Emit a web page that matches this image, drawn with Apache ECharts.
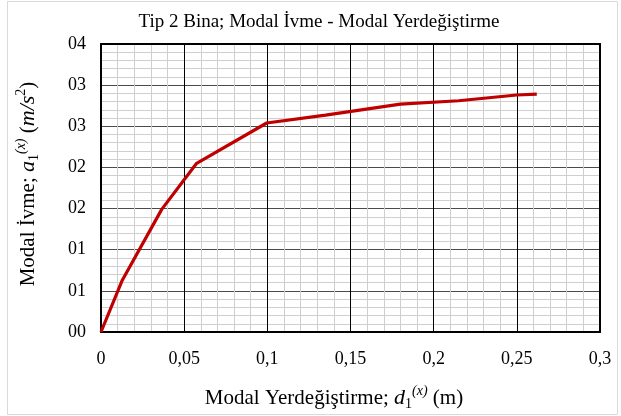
<!DOCTYPE html>
<html>
<head>
<meta charset="utf-8">
<script src="https://cdn.jsdelivr.net/npm/echarts@6/dist/echarts.min.js"></script>
<style>
  html, body { margin: 0; padding: 0; background: #fff; }
  #chart { width: 621px; height: 416px; }
</style>
</head>
<body>
<div id="chart"></div>
<script>
// Capacity curve in modal coordinates: displacement (m) vs. acceleration
const displacement = [0, 0.0128, 0.0365, 0.0575, 0.0996, 0.135, 0.18, 0.215, 0.25, 0.262];
const acceleration = [0, 0.63, 1.49, 2.05, 2.54, 2.635, 2.77, 2.81, 2.88, 2.89];

// Axis tick labels
const xTickLabels = ['0', '0,05', '0,1', '0,15', '0,2', '0,25', '0,3'];
const yTickLabels = ['00', '01', '01', '02', '02', '03', '03', '04'];

const titleText = 'Tip 2 Bina; Modal İvme - Modal Yerdeğiştirme';

const serif = '"Liberation Serif", "Times New Roman", serif';
const points = displacement.map((d, i) => [d, acceleration[i]]);

const chart = echarts.init(document.getElementById('chart'), null, { renderer: 'canvas' });

const baseAxisLabel = { color: '#000', fontFamily: serif, fontSize: 18 };

// rich-text styles for the math in the axis names (sub/superscripts)
const nameRich = {
  t: { fontFamily: serif, fontSize: 21, color: '#000', height: 30 },
  i: { fontFamily: serif, fontSize: 22, fontStyle: 'italic', color: '#000', height: 30 },
  sub: { fontFamily: serif, fontSize: 14, color: '#000', verticalAlign: 'bottom', height: 18 },
  sup: { fontFamily: serif, fontSize: 14, fontStyle: 'italic', color: '#000', verticalAlign: 'top', height: 16 },
  sup2: { fontFamily: serif, fontSize: 14, color: '#000', verticalAlign: 'top', height: 16 }
};

chart.setOption({
  animation: false,
  backgroundColor: '#fff',
  title: {
    text: titleText,
    left: 314, textAlign: 'center',
    top: 8,
    textStyle: { fontFamily: serif, fontSize: 19, fontWeight: 'normal', color: '#000' }
  },
  graphic: [{
    type: 'rect',
    shape: { x: 7.5, y: 1.5, width: 610, height: 413 },
    style: { fill: 'none', stroke: '#d9d9d9', lineWidth: 1 },
    silent: true
  }],
  grid: { left: 101, right: 21, top: 44, bottom: 84 },
  xAxis: [{
    type: 'value',
    min: 0, max: 0.3, interval: 0.05,
    axisLine: { show: true, onZero: false, lineStyle: { color: '#000', width: 2 } },
    axisTick: { show: false },
    axisLabel: Object.assign({}, baseAxisLabel, {
      margin: 18,
      formatter: (v, i) => xTickLabels[i]
    }),
    splitLine: { show: true, lineStyle: { color: '#000', width: 1 } },
    minorTick: { show: false, splitNumber: 5 },
    minorSplitLine: { show: true, lineStyle: { color: '#cfcfcf', width: 1 } },
    name: '{t|Modal Yerdeğiştirme; }{i|d}{sub|1}{sup|(x)}{t| (m)}',
    nameLocation: 'middle',
    nameGap: 51,
    nameTextStyle: {
      color: '#000', fontFamily: serif, fontSize: 21,
      padding: [0, 33, 0, 0],
      rich: nameRich
    }
  }, {
    type: 'value', position: 'top',
    min: 0, max: 0.3, interval: 0.05,
    axisLine: { show: true, onZero: false, lineStyle: { color: '#000', width: 2 } },
    axisTick: { show: false }, axisLabel: { show: false }, splitLine: { show: false }
  }],
  yAxis: [{
    type: 'value',
    min: 0, max: 3.5, interval: 0.5,
    axisLine: { show: true, onZero: false, lineStyle: { color: '#000', width: 2 } },
    axisTick: { show: false },
    axisLabel: Object.assign({}, baseAxisLabel, {
      margin: 15,
      formatter: (v, i) => yTickLabels[i]
    }),
    splitLine: { show: true, lineStyle: { color: '#4a4a4a', width: 1 } },
    minorTick: { show: false, splitNumber: 5 },
    minorSplitLine: { show: true, lineStyle: { color: '#cfcfcf', width: 1 } },
    name: '{t|Modal İvme; }{i|a}{sub|1}{sup|(x)}{t| (}{i|m/s}{sup2|2}{t|)}',
    nameLocation: 'middle',
    nameGap: 58,
    nameRotate: 90,
    nameTextStyle: {
      color: '#000', fontFamily: serif, fontSize: 21,
      padding: [0, 0, 0, 8],
      rich: nameRich
    }
  }, {
    type: 'value', position: 'right',
    min: 0, max: 3.5, interval: 0.5,
    axisLine: { show: true, onZero: false, lineStyle: { color: '#000', width: 2 } },
    axisTick: { show: false }, axisLabel: { show: false }, splitLine: { show: false }
  }],
  series: [{
    type: 'line',
    data: points,
    xAxisIndex: 0,
    yAxisIndex: 0,
    symbol: 'none',
    smooth: false,
    lineStyle: { color: '#c00000', width: 3.2 },
    z: 5
  }]
});
</script>
</body>
</html>
